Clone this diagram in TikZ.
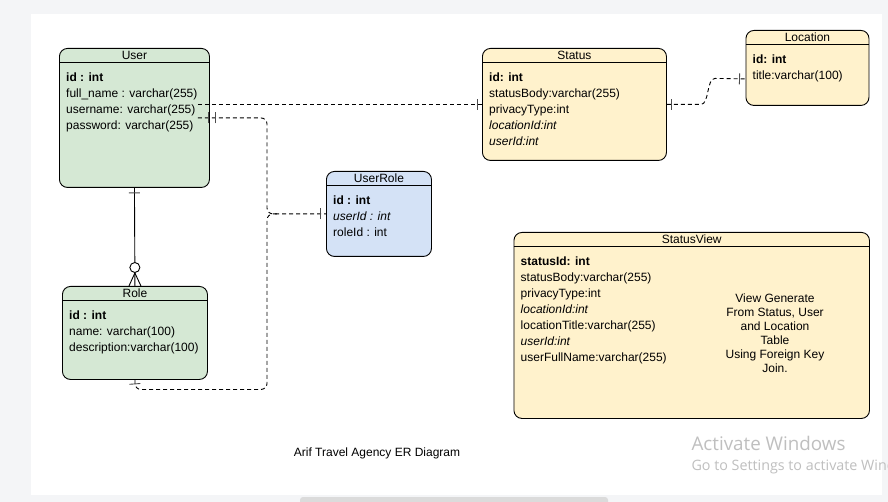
\documentclass[tikz,border=0pt]{standalone}
\usepackage{fontspec}
\setmainfont{Liberation Sans}
\newfontfamily\winfont{Open Sans}
\usetikzlibrary{positioning,decorations.markings}
\definecolor{greenbox}{HTML}{D5E8D4}
\definecolor{yellowbox}{HTML}{FFF2CC}
\definecolor{bluebox}{HTML}{D4E2F6}
\definecolor{pagegray}{HTML}{F4F5F7}

\begin{document}
\begin{tikzpicture}[x=1pt,y=-1pt,
  every node/.style={font=\fontsize{12}{16}\selectfont},
  tbl/.style={draw,line width=0.9pt,rounded corners=8pt,anchor=north west,inner sep=0pt},
  hdr/.style={below=0pt of #1.north,minimum height=14pt,inner sep=0pt},
  fld/.style={below right=24.6pt and 7pt of #1.north west,align=left,inner sep=0pt},
  conn/.style={draw,line width=0.9pt,dash pattern=on 4pt off 3pt,rounded corners=6pt},
  bar at/.style={postaction={decorate,decoration={markings,mark=at position #1 with {\draw[solid,line width=0.9pt,black!70] (0,-5.5pt) -- (0,5.5pt);}}}},
  zeromany/.style={postaction={decorate,decoration={markings,mark=at position 1 with {\draw[solid,line width=0.9pt] (-13pt,0) -- (0,-6pt) (-13pt,0) -- (0,6pt); \draw[solid,line width=0.9pt,fill=white] (-18.5pt,0) circle (5pt);}}}}]
\path[use as bounding box,fill=pagegray] (0,0) rectangle (888,502);
\fill[white] (31,14) rectangle (882,495);
\fill[black!14,rounded corners=3pt] (300,497) rectangle (608,508);

\node[tbl,fill=greenbox,minimum width=150pt,minimum height=139pt] (user) at (59,48) {};
\node[hdr=user] (userhd) {User};
\node[fld=user] (userf) {\textbf{id : int}\\full\_name : varchar(255)\\username: varchar(255)\\password: varchar(255)};

\node[tbl,fill=greenbox,minimum width=145pt,minimum height=93pt] (role) at (62,286) {};
\node[hdr=role] (rolehd) {Role};
\node[fld=role] (rolef) {\textbf{id : int}\\name: varchar(100)\\description:varchar(100)};

\node[tbl,fill=bluebox,minimum width=105pt,minimum height=85pt] (userrole) at (326,171) {};
\node[hdr=userrole] (userrolehd) {UserRole};
\node[fld=userrole] (userrolef) {\textbf{id : int}\\\textit{userId : int}\\roleId : int};

\node[tbl,fill=yellowbox,minimum width=184pt,minimum height=112pt] (status) at (482,48) {};
\node[hdr=status] (statushd) {Status};
\node[fld=status] (statusf) {\textbf{id: int}\\statusBody:varchar(255)\\privacyType:int\\\textit{locationId:int}\\\textit{userId:int}};

\node[tbl,fill=yellowbox,minimum width=123pt,minimum height=75pt] (location) at (745.5,30) {};
\node[hdr=location] (locationhd) {Location};
\node[fld=location] (locationf) {\textbf{id: int}\\title:varchar(100)};

\node[tbl,fill=yellowbox,minimum width=355.5pt,minimum height=186pt] (statusview) at (513.5,232) {};
\node[hdr=statusview] (statusviewhd) {StatusView};
\node[fld=statusview] (statusviewf) {\textbf{statusId: int}\\statusBody:varchar(255)\\privacyType:int\\\textit{locationId:int}\\locationTitle:varchar(255)\\\textit{userId:int}\\userFullName:varchar(255)};
\node[align=center,font=\fontsize{12}{14}\selectfont] (svnote) at (775,333) {View Generate\\From Status, User\\and Location\\Table\\Using Foreign Key\\Join.};

\foreach \tb in {user,role,userrole,status,location,statusview}
  \draw[line width=0.9pt] (\tb.west |- \tb hd.south) -- (\tb.east |- \tb hd.south);

\coordinate[left=59pt of userrole.west] (jn);
\coordinate[below=175.5pt of jn] (jb);

\draw[line width=0.9pt,bar at=5pt,zeromany] (user.south) -- (role.north);
\draw[conn,bar at=-5pt] ([xshift=-12pt]user.east |- status.west) -- (status.west);
\draw[conn,bar at=11pt,bar at=18pt,bar at=-6pt] ([xshift=-12pt]user.east) -| (jn) -- (userrole.west);
\draw[conn,bar at=4pt] (role.south) |- (jb) |- ([xshift=12pt]jn);
\draw[conn,bar at=5pt,bar at=-6pt] (status.east) -- ++(28,0) to[out=0,in=180] ++(26,-26) -- ([yshift=-11pt]location.west);

\node (caption) at (377,453) {Arif Travel Agency ER Diagram};
\node[anchor=base west,text=black!25,font=\winfont\fontsize{18.8}{20}\selectfont] (actwin) at (688,450) {Activate Windows};
\node[anchor=base west,text=black!25,font=\winfont\fontsize{14.3}{16}\selectfont] (actgo) at (688,470) {Go to Settings to activate Windows.};
\end{tikzpicture}
\end{document}
